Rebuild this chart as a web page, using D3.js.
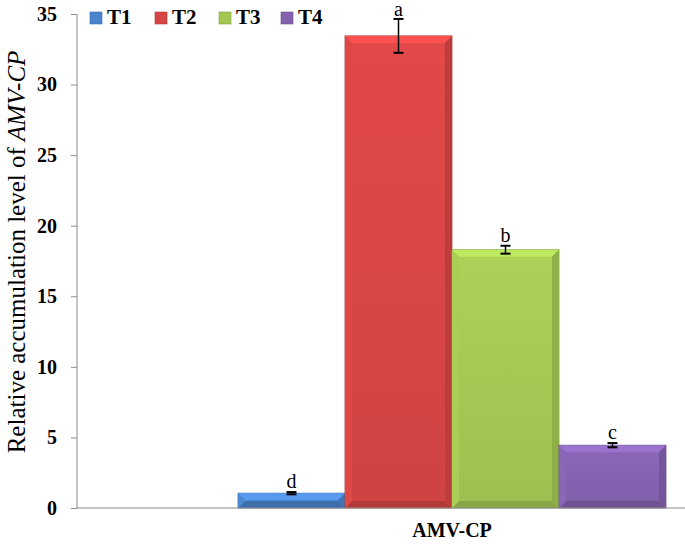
<!DOCTYPE html>
<html>
<head>
<meta charset="utf-8">
<script src="https://cdn.jsdelivr.net/npm/d3@7"></script>
<style>
  body { margin: 0; background: #fff; }
  svg text { font-family: "Liberation Serif", "Times New Roman", serif; }
</style>
</head>
<body>
<div id="chart-area"></div>
<script>
// Data
var treatments = ["T1", "T2", "T3", "T4"];
var values = [1.05, 33.45, 18.3, 4.45];
var errors = [0.08, 1.2, 0.28, 0.15];
var letters = ["d", "a", "b", "c"];
var yTicks = [0, 5, 10, 15, 20, 25, 30, 35];
var colors = ["#4a84cc", "#d64544", "#a2c752", "#8462b0"];

var width = 685, height = 546;
var margin = { left: 77, top: 14, bottom: 38 };
var plotBottom = height - margin.bottom;

var svg = d3.select("#chart-area")
  .append("svg")
    .attr("width", width)
    .attr("height", height);

// scales: group sits in the middle of a plot that runs off the right edge
var y = d3.scaleLinear().domain([0, 35]).range([plotBottom, margin.top]);
var x = d3.scaleBand()
  .domain(treatments)
  .range([238, 666])
  .paddingInner(0)
  .paddingOuter(0);

// soft vertical gradient for each bar
var defs = svg.append("defs");
colors.forEach(function(c, i) {
  var g = defs.append("linearGradient")
    .attr("id", "grad" + i)
    .attr("x1", 0).attr("y1", 0).attr("x2", 0).attr("y2", 1);
  g.append("stop").attr("offset", "0%").attr("stop-color", d3.color(c).brighter(0.15));
  g.append("stop").attr("offset", "100%").attr("stop-color", d3.color(c).darker(0.1));
});

// bars
var bars = svg.selectAll("g.bar")
  .data(values)
  .enter()
  .append("g")
    .attr("class", "bar");

bars.append("rect")
  .attr("x", function(d, i) { return x(treatments[i]); })
  .attr("y", function(d) { return y(d); })
  .attr("width", x.bandwidth())
  .attr("height", function(d) { return plotBottom - y(d); })
  .attr("fill", function(d, i) { return "url(#grad" + i + ")"; })
  .attr("stroke", function(d, i) { return d3.color(colors[i]).darker(0.6); })
  .attr("stroke-width", 0.8);

// bevel edges
var bev = 7;
bars.each(function(d, i) {
  var x0 = x(treatments[i]), x1 = x0 + x.bandwidth();
  var y0 = y(d), y1 = plotBottom;
  var b = Math.min(bev, (y1 - y0) / 2);
  var c = d3.color(colors[i]);
  var g = d3.select(this);
  g.append("polygon")
    .attr("points", [[x0, y0], [x1, y0], [x1 - b, y0 + b], [x0 + b, y0 + b]].join(" "))
    .attr("fill", c.brighter(0.45));
  g.append("polygon")
    .attr("points", [[x0, y1], [x1, y1], [x1 - b, y1 - b], [x0 + b, y1 - b]].join(" "))
    .attr("fill", c.darker(0.5));
  g.append("polygon")
    .attr("points", [[x0, y0], [x0 + b, y0 + b], [x0 + b, y1 - b], [x0, y1]].join(" "))
    .attr("fill", c.brighter(0.1));
  g.append("polygon")
    .attr("points", [[x1, y0], [x1 - b, y0 + b], [x1 - b, y1 - b], [x1, y1]].join(" "))
    .attr("fill", c.darker(0.35));
});

// error bars and significance letters
bars.each(function(d, i) {
  var cx = x(treatments[i]) + x.bandwidth() / 2;
  var g = d3.select(this);
  var lo = y(d - errors[i]), hi = y(d + errors[i]);
  g.append("line").attr("x1", cx).attr("x2", cx).attr("y1", lo).attr("y2", hi)
    .attr("stroke", "#000").attr("stroke-width", 1.5);
  [lo, hi].forEach(function(yy) {
    g.append("line").attr("x1", cx - 5).attr("x2", cx + 5).attr("y1", yy).attr("y2", yy)
      .attr("stroke", "#000").attr("stroke-width", 2);
  });
  g.append("text")
    .attr("x", cx)
    .attr("y", Math.max(hi - 4, 16))
    .attr("text-anchor", "middle")
    .attr("font-size", 20)
    .text(letters[i]);
});

// axes
var yAxisCall = d3.axisLeft(y)
  .tickValues(yTicks)
  .tickSize(6)
  .tickPadding(14);

var yAxis = svg.append("g")
  .attr("class", "left axis")
  .attr("transform", "translate(" + margin.left + ",0)")
  .call(yAxisCall);
yAxis.select(".domain").attr("stroke", "#8c8c8c").attr("d", "M0," + margin.top + "V" + plotBottom);
yAxis.selectAll(".tick line").attr("stroke", "#8c8c8c");
yAxis.selectAll(".tick text")
  .attr("font-size", 20)
  .attr("font-weight", "bold")
  .attr("fill", "#000")
  .attr("font-family", "Liberation Serif, serif");

svg.append("line")
  .attr("x1", margin.left).attr("x2", width)
  .attr("y1", plotBottom).attr("y2", plotBottom)
  .attr("stroke", "#8c8c8c");

// axis labels
svg.append("text")
  .attr("x", 452)
  .attr("y", 537)
  .attr("text-anchor", "middle")
  .attr("font-size", 20)
  .attr("font-weight", "bold")
  .text("AMV-CP");

var yl = svg.append("text")
  .attr("transform", "translate(25,252) rotate(-90)")
  .attr("text-anchor", "middle")
  .attr("font-size", 25);
yl.append("tspan").text("Relative accumulation level of ");
yl.append("tspan").attr("font-style", "italic").text("AMV-CP");

// legend
var legendX = [90, 155, 219, 281];
var legend = svg.selectAll("g.legend")
  .data(treatments)
  .enter()
  .append("g")
    .attr("class", "legend")
    .attr("transform", function(d, i) { return "translate(" + legendX[i] + ",12)"; });
legend.append("rect")
  .attr("width", 12).attr("height", 12)
  .attr("fill", function(d, i) { return colors[i]; })
  .attr("stroke", function(d, i) { return d3.color(colors[i]).darker(0.6); })
  .attr("stroke-width", 0.6);
legend.append("text")
  .attr("x", 17)
  .attr("y", 12)
  .attr("font-size", 21)
  .attr("font-weight", "bold")
  .text(function(d) { return d; });
</script>
</body>
</html>
